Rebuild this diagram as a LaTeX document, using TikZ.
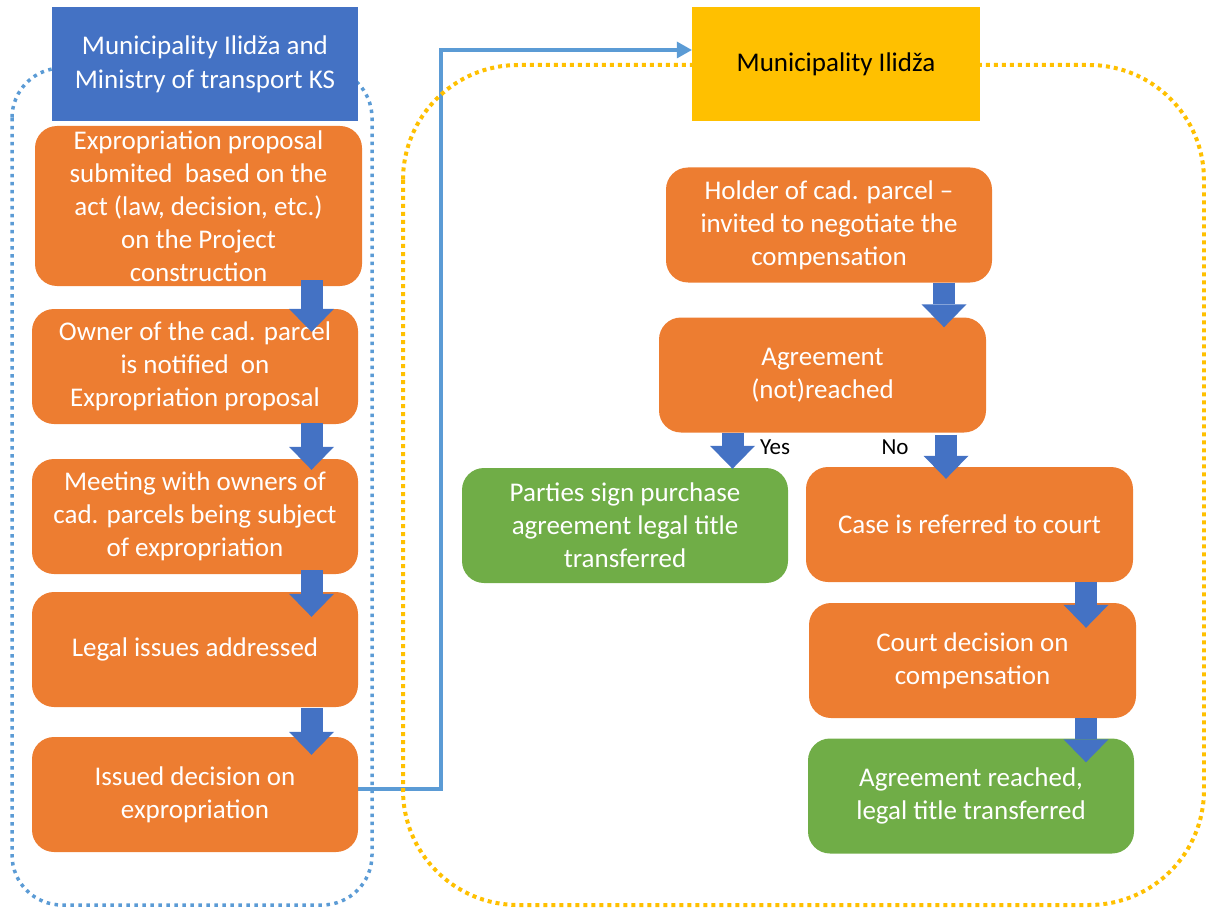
\documentclass[tikz,border=0pt]{standalone}
\usepackage{fontspec}
\setmainfont{Carlito}
\usetikzlibrary{arrows.meta,calc,backgrounds}
\definecolor{orangeC}{HTML}{ED7D31}
\definecolor{blueC}{HTML}{4472C4}
\definecolor{greenC}{HTML}{70AD47}
\definecolor{yellowC}{HTML}{FFC000}
\definecolor{lblueC}{HTML}{5B9BD5}
\tikzset{
  box/.style={rounded corners=22pt, fill=orangeC, text=white, align=center, inner sep=0pt,
    minimum width=326pt, minimum height=115pt, font=\fontsize{27}{33}\selectfont,
    execute at begin node={\mbox{}\\[-27pt]}},
  gbox/.style={box, fill=greenC},
  header/.style={fill=blueC, text=white, align=center, inner sep=0pt,
    minimum width=306pt, minimum height=114pt, font=\fontsize{27}{34}\selectfont,
    execute at begin node={\mbox{}\\[-28pt]}},
  yheader/.style={header, fill=yellowC, text=black, minimum width=288pt},
  barrow/.style={draw=blueC, line width=22pt,
    -{Triangle[width=45pt,length=23pt,line width=0pt]}},
  conn/.style={draw=lblueC, line width=4.5pt, -{Triangle[width=17pt,length=15pt,line width=0pt]}},
  bluedots/.style={draw=lblueC, line width=3.5pt, dash pattern=on 3.5pt off 4.5pt},
  yellowdots/.style={draw=yellowC, line width=4pt, dash pattern=on 4pt off 4pt},
  lbl/.style={text=black, font=\fontsize{23}{27}\selectfont, inner sep=0pt}
}
\begin{document}
\begin{tikzpicture}[x=1pt,y=-1pt]
\useasboundingbox (0,0) rectangle (1206,909);

% headers
\node[header] (hl) at (205,64) {Municipality Ilidža and\\Ministry of transport KS};
\node[yheader] (hr) at (836,64) {Municipality Ilidža};

% left column nodes
\node[box, minimum width=327pt, minimum height=160pt] (b1) at (198.5,206)
  {Expropriation proposal\\submited\ \ based on the\\act (law, decision, etc.)\\on the Project\\construction};
\node[box] (b2) at (195,366.5) {Owner of the cad. parcel\\is notified\ \ on\\Expropriation proposal};
\node[box] (b3) at (195,516.5) {Meeting with owners of\\cad. parcels being subject\\of expropriation};
\node[box] (b4) at (195,649.5) {Legal issues addressed};
\node[box] (b5) at (195,794.5) {Issued decision on\\expropriation};

% right side nodes
\node[box] (r1) at (829,225) {Holder of cad. parcel --\\invited to negotiate the\\compensation};
\node[box, minimum width=327pt] (r2) at (822.5,375) {Agreement\\(not)reached};
\node[gbox] (g1) at (625,525.5) {Parties sign purchase\\agreement legal title\\transferred};
\node[box, minimum width=327pt] (r3) at (969.5,524.5) {Case is referred to court};
\node[box, minimum width=327pt] (r4) at (972.5,660.5) {Court decision on\\compensation};
\node[gbox] (g2) at (971,796) {Agreement reached,\\legal title transferred};

\begin{scope}[on background layer]
% connector
\coordinate (bend) at (441,50);
\draw[conn] ([yshift=5.5pt]b5.east) -| (bend) -- ([yshift=14pt]hr.west);
% dotted frames
\draw[bluedots, rounded corners=50pt] (12,68) rectangle (372,905);
\draw[yellowdots, rounded corners=115pt] (403,65) rectangle (1204,905);
\end{scope}

% block arrows
\draw[barrow] ($(b1.south)+(113,-6)$) -- ($(b2.north)+(116.5,23)$);
\draw[barrow] ($(b2.south)+(116.5,-1)$) -- ($(b3.north)+(116.5,11)$);
\draw[barrow] ($(b3.south)+(116.5,-4)$) -- ($(b4.north)+(116.5,25)$);
\draw[barrow] ($(b4.south)+(116.5,1)$) -- ($(b5.north)+(116.5,18)$);
\draw[barrow] ($(r1.south)+(115,0)$) -- ($(r2.north)+(121.5,10)$);
\draw[barrow] ($(r2.south)+(-90,0)$) -- ($(g1.north)+(107.5,1)$);
\draw[barrow] ($(r2.south)+(123.5,2)$) -- ($(r3.north)+(-23.5,12)$);
\draw[barrow] ($(r3.south)+(116.5,0)$) -- ($(r4.north)+(113.5,25)$);
\draw[barrow] ($(r4.south)+(113.5,0)$) -- ($(g2.north)+(115,24)$);

% labels
\node[lbl] (yes) at (775,447) {Yes};
\node[lbl] (no) at (895,447) {No};
\end{tikzpicture}
\end{document}
